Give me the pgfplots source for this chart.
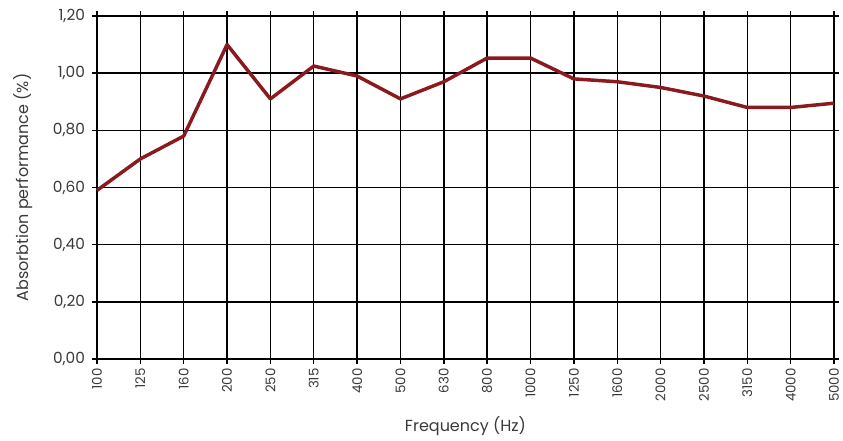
\documentclass[border=0pt]{standalone}
\usepackage{pgfplots}
\pgfplotsset{compat=1.18}
\usepackage{fontspec}
\setmainfont{Poppins}
\definecolor{linered}{HTML}{8A1A1E}
\definecolor{txtgray}{HTML}{3A3A3A}
\begin{document}
\begin{tikzpicture}
\begin{axis}[
  scale only axis,
  width=552.75pt, height=257.25pt,
  xmin=0, xmax=17, ymin=0, ymax=1.2,
  xtick={0,...,17},
  xticklabels={100,125,160,200,250,315,400,500,630,800,1000,1250,1600,2000,2500,3150,4000,5000},
  x tick label style={rotate=90, anchor=east, font=\fontsize{10}{12}\selectfont, text=txtgray},
  ytick={0,0.2,0.4,0.6,0.8,1.0,1.2},
  y tick label style={font=\fontsize{11.5}{12}\selectfont, text=txtgray, xshift=-2pt},
  /pgf/number format/assume math mode=true,
  yticklabel style={/pgf/number format/.cd, fixed, fixed zerofill, precision=2, use comma},
  grid=major,
  major grid style={black, line width=1.1pt},
  axis line style={black, line width=1.1pt},
  tick align=outside,
  major tick length=3.5pt,
  tick style={black, line width=1.1pt},
  xlabel={Frequency (Hz)},
  ylabel={Absorbtion performance (\%)},
  label style={font=\fontsize{12}{14}\selectfont, text=txtgray},
  xlabel style={yshift=-4pt},
  ylabel style={yshift=8pt},
  clip=false,
]
\addplot[linered, line width=2.6pt, line join=round] coordinates {
(0,0.59) (1,0.70) (2,0.78) (3,1.10) (4,0.91) (5,1.025) (6,0.99) (7,0.91) (8,0.97)
(9,1.053) (10,1.053) (11,0.98) (12,0.97) (13,0.95) (14,0.92) (15,0.88) (16,0.88) (17,0.895)
};
\end{axis}
\pgfresetboundingbox
\path[use as bounding box] (-72.75pt,-60.75pt) rectangle (559.5pt,269.25pt);
\end{tikzpicture}
\end{document}
